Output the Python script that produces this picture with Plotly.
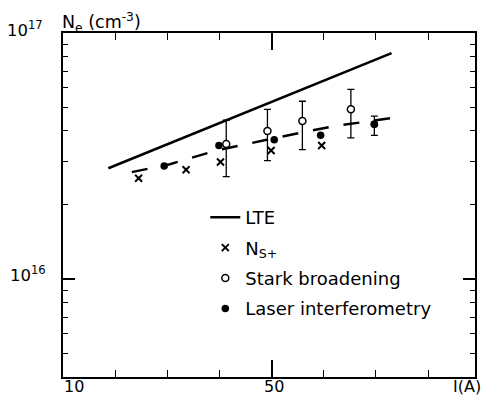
import plotly.graph_objects as go

# ---- data ----
lte_current = [18.7, 73.0]
lte_ne = [2.82e16, 8.28e16]

fit_current = [23.2, 30.5, 39.4, 45.8, 52.1, 61.9, 71.5, 74.6]
fit_ne = [2.72e16, 2.93e16, 3.33e16, 3.57e16, 3.80e16, 4.18e16, 4.48e16, 4.56e16]

ns_current = [24.5, 33.6, 40.2, 49.9, 59.6]
ns_ne = [2.57e16, 2.78e16, 2.99e16, 3.33e16, 3.49e16]

stark_current = [41.3, 49.2, 55.9, 65.2]
stark_ne = [3.54e16, 4.00e16, 4.39e16, 4.90e16]
stark_hi = [4.42e16, 4.89e16, 5.28e16, 5.90e16]
stark_lo = [2.61e16, 3.03e16, 3.36e16, 3.75e16]

laser_current = [29.4, 39.9, 50.5, 59.4, 69.7]
laser_ne = [2.88e16, 3.49e16, 3.68e16, 3.84e16, 4.26e16]
laser_err_index = 4
laser_err_hi = 4.59e16
laser_err_lo = 3.84e16

x_major = [50]
x_minor = [20, 30, 40, 60, 70, 80]
y_major = [1e16, 1e17]
y_minor = [4e15, 5e15, 6e15, 7e15, 8e15, 9e15,
           2e16, 3e16, 4e16, 5e16, 6e16, 7e16, 8e16, 9e16]

FONT = "DejaVu Sans"
W, H = 486, 407
ML, MR, MT, MB = 63, 9, 33, 30
PW, PH = W - ML - MR, H - MT - MB


def px(xp):
    return (xp - ML) / PW


def py(yp):
    return (H - MB - yp) / PH


fig = go.Figure()

fig.add_trace(go.Scatter(
    x=lte_current, y=lte_ne, mode="lines", name="LTE",
    line=dict(color="black", width=2.5), legendgroup="a"))

fig.add_trace(go.Scatter(
    x=fit_current, y=fit_ne, mode="lines", showlegend=False,
    line=dict(color="black", width=2.5, dash="16px,15px")))

fig.add_trace(go.Scatter(
    x=ns_current, y=ns_ne, mode="markers", name="N<sub>S+</sub>",
    marker=dict(symbol="x-thin", size=7, line=dict(color="black", width=2)),
    legendgroup="b"))

fig.add_trace(go.Scatter(
    x=stark_current, y=stark_ne, mode="markers", name="Stark broadening",
    marker=dict(symbol="circle", size=7, color="white",
                line=dict(color="black", width=1.5)),
    error_y=dict(type="data", symmetric=False,
                 array=[h - v for h, v in zip(stark_hi, stark_ne)],
                 arrayminus=[v - l for v, l in zip(stark_ne, stark_lo)],
                 color="black", thickness=1.3, width=3.5),
    legendgroup="c"))

fig.add_trace(go.Scatter(
    x=laser_current, y=laser_ne, mode="markers", name="Laser interferometry",
    marker=dict(symbol="circle", size=7.5, color="black"),
    legendgroup="d"))

fig.add_trace(go.Scatter(
    x=[laser_current[laser_err_index]], y=[laser_ne[laser_err_index]],
    mode="markers", showlegend=False,
    marker=dict(symbol="circle", size=7.5, color="black"),
    error_y=dict(type="data", symmetric=False,
                 array=[laser_err_hi - laser_ne[laser_err_index]],
                 arrayminus=[laser_ne[laser_err_index] - laser_err_lo],
                 color="black", thickness=1.3, width=3.5)))

annotations = [
    dict(text="10<sup>17</sup>", x=px(45), y=py(29), xanchor="right", yanchor="middle", size=16.5),
    dict(text="10<sup>16</sup>", x=px(48), y=py(274), xanchor="right", yanchor="middle", size=16.5),
    dict(text="N<sub>e</sub> (cm<sup>-3</sup>)", x=px(60), y=py(23), xanchor="left", yanchor="middle", size=17.5),
    dict(text="10", x=px(62), y=py(386), xanchor="left", yanchor="middle", size=16),
    dict(text="50", x=px(275), y=py(386), xanchor="center", yanchor="middle", size=16),
    dict(text="I(A)", x=px(485), y=py(386), xanchor="right", yanchor="middle", size=16),
]
for a in annotations:
    s = a.pop("size")
    a.update(xref="paper", yref="paper", showarrow=False,
             font=dict(family=FONT, size=s, color="black"))

fig.update_layout(
    width=W, height=H,
    margin=dict(l=ML, r=MR, t=MT, b=MB, pad=0),
    paper_bgcolor="white", plot_bgcolor="white",
    font=dict(family=FONT, size=17, color="black"),
    annotations=annotations,
    legend=dict(x=px(206), y=py(199), xanchor="left", yanchor="top",
                bgcolor="rgba(0,0,0,0)", borderwidth=0,
                tracegroupgap=4, font=dict(family=FONT, size=18)),
    xaxis=dict(range=[10, 89], showgrid=False, zeroline=False,
               showline=True, linecolor="black", linewidth=1.8, mirror="ticks",
               ticks="inside", tickvals=x_major, ticklen=17, tickwidth=1.5,
               tickcolor="black", showticklabels=False,
               minor=dict(tickvals=x_minor, ticks="inside", ticklen=7,
                          tickwidth=1.3, tickcolor="black")),
    yaxis=dict(type="log", range=[15.602, 17], showgrid=False, zeroline=False,
               showline=True, linecolor="black", linewidth=1.8, mirror="ticks",
               ticks="inside", tickvals=y_major, ticklen=12, tickwidth=1.5,
               tickcolor="black", showticklabels=False,
               minor=dict(tickvals=y_minor, ticks="inside", ticklen=5,
                          tickwidth=1.3, tickcolor="black")),
)

fig.write_html("out.html", config={"displayModeBar": False},
               post_script="document.body.style.margin='0';document.body.style.overflow='hidden';")
